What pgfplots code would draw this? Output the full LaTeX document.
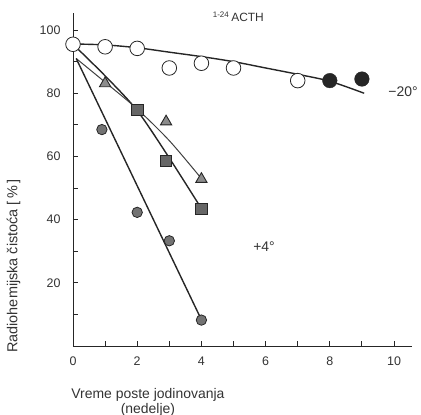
\documentclass[border=0pt]{standalone}
\usepackage{pgfplots}
\pgfplotsset{compat=1.18}
\usepackage{fontspec}
\setmainfont{Liberation Sans}
\begin{document}
\begin{tikzpicture}
\useasboundingbox (-73bp,-69bp) rectangle (348bp,346bp);
\begin{axis}[
  scale only axis, width=339bp, height=333bp,
  xmin=0, xmax=10.56, ymin=0, ymax=105.4,
  axis x line=bottom, axis y line=left,
  axis line style={-, line width=0.9bp, black!85},
  xtick={0,2,...,10}, minor xtick={1,3,...,9},
  ytick={20,40,...,100}, minor ytick={10,30,...,90},
  tick align=inside, major tick length=5bp, minor tick length=5bp,
  every tick/.style={line width=0.9bp, black!85},
  /pgf/number format/assume math mode=true,
  ticklabel style={font=\fontsize{12.5}{14}\selectfont, text=black!80},
  xticklabel style={yshift=-7bp},
  yticklabel style={xshift=-9bp},
  clip=false,
  xlabel={Vreme poste jodinovanja\\(nedelje)},
  xlabel style={align=center, font=\fontsize{14}{15}\selectfont, text=black!80,
    at={(axis description cs:0.221,0)}, anchor=north, yshift=-38.7bp},
  ylabel={Radiohemijska čistoća [\,\%\,]},
  ylabel style={font=\fontsize{14.5}{15}\selectfont, text=black!80,
    at={(axis description cs:-0.175,0.24)}, anchor=center},
]
% -20 degree fitted curve
\addplot[line width=1.4bp, black!85, smooth, tension=0.5, mark=none]
  coordinates {(0,95.6)(1,95.3)(2,94.4)(3,93)(4,91.6)(5,90)(6,88)(7,86)(8,83.8)(9.07,80)};
% +4 degree lines
\addplot[line width=1.4bp, black!85, smooth, tension=0.5, mark=none]
  coordinates {(0,95.5)(1,85.5)(2,74.5)(3,59.5)(4,43.5)};
\addplot[line width=1.0bp, black!75, smooth, tension=0.5, mark=none]
  coordinates {(0.1,91)(1,83.5)(2,75)(3,65)(4,53)};
\addplot[line width=1.4bp, black!85, mark=none]
  coordinates {(0.1,91)(4,8.3)};
% markers
\addplot[only marks, mark=*, mark size=7.3bp, mark options={fill=white, draw=black!85, line width=0.8bp}]
  coordinates {(0,95.5)(1,94.7)(2,94.2)(3,88)(4,89.5)(5,88)(7,84)};
\addplot[only marks, mark=*, mark size=7.3bp, mark options={fill=black!85, draw=black!85}]
  coordinates {(8,84)(9,84.5)};
\addplot[only marks, mark=triangle*, mark size=6.5bp, mark options={fill=black!45, draw=black!85, line width=0.9bp}]
  coordinates {(1,83.1)(2.9,71)(4,52.8)};
\addplot[only marks, mark=square*, mark size=5.8bp, mark options={fill=black!60, draw=black!85, line width=0.9bp}]
  coordinates {(2,74.7)(2.9,58.6)(4,43.4)};
\addplot[only marks, mark=*, mark size=5.2bp, mark options={fill=black!55, draw=black!85, line width=0.8bp}]
  coordinates {(0.9,68.5)(2,42.3)(3,33.3)(4,8.2)};
% annotations
\node[font=\fontsize{14}{15}\selectfont, text=black!80] at (axis cs:10.28,80.4) {−20°};
\node[font=\fontsize{14}{15}\selectfont, text=black!80] at (axis cs:5.95,31.6) {+4°};
\node[font=\fontsize{12}{13}\selectfont, text=black!80] at (axis cs:5.15,104.1) {\textsuperscript{1-24}\,ACTH};
\end{axis}
\end{tikzpicture}
\end{document}
